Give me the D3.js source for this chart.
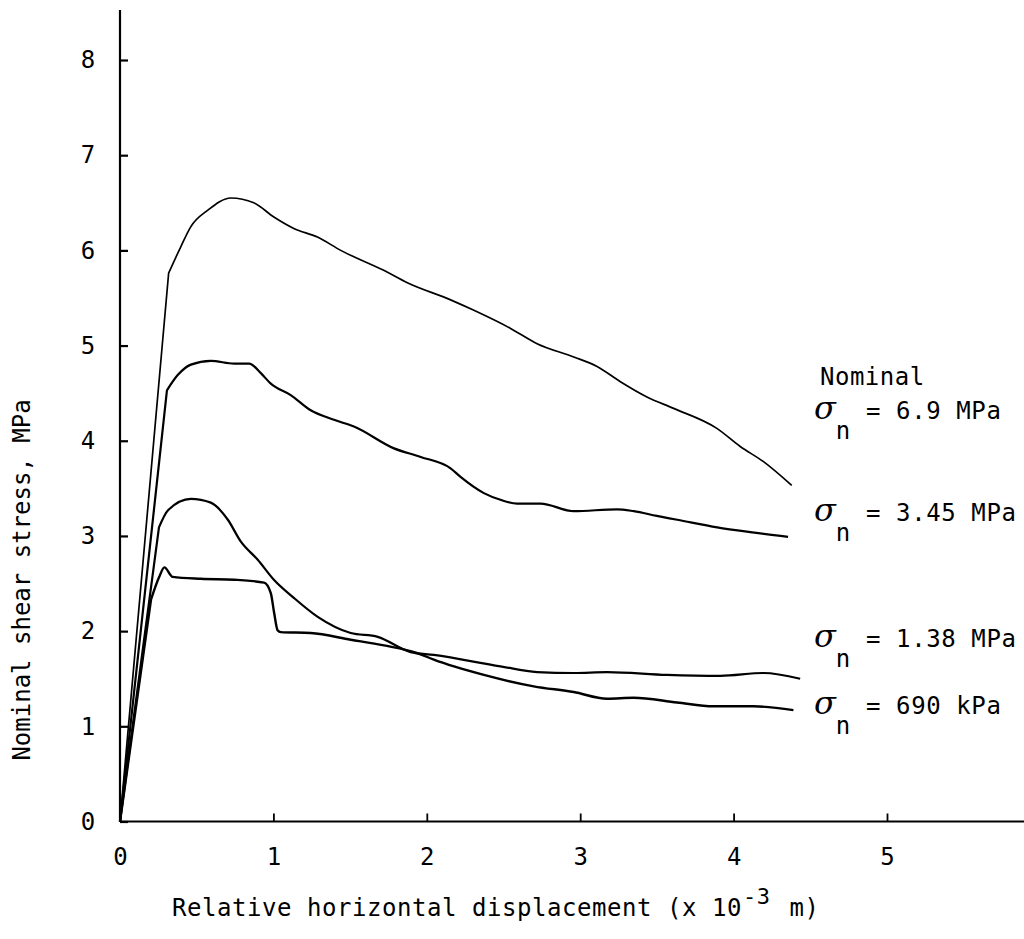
<!DOCTYPE html>
<meta charset="utf-8">
<body style="margin:0;background:#fff">
<script src="https://d3js.org/d3.v7.min.js"></script>
<script>
// tick values
var xTicks = [0, 1, 2, 3, 4, 5];
var yTicks = [0, 1, 2, 3, 4, 5, 6, 7, 8];

// shear stress (MPa) vs displacement (x 10^-3 m)
var curve69 = [[0,0],[0.317,5.76],[0.397,6.04],[0.462,6.25],[0.571,6.42],[0.723,6.55],[0.872,6.50],
  [1.003,6.35],[1.133,6.23],[1.287,6.14],[1.439,6.00],[1.719,5.79],[1.873,5.66],[2.155,5.48],
  [2.307,5.37],[2.546,5.18],[2.719,5.02],[2.958,4.88],[3.110,4.78],[3.262,4.62],[3.435,4.46],
  [3.609,4.34],[3.891,4.13],[4.043,3.94],[4.195,3.78],[4.379,3.53]];
var curve345 = [[0,0],[0.306,4.53],[0.376,4.69],[0.462,4.80],[0.592,4.84],[0.744,4.81],[0.842,4.81],
  [0.918,4.71],[0.983,4.60],[1.113,4.48],[1.243,4.32],[1.395,4.22],[1.525,4.15],[1.786,3.92],
  [1.960,3.83],[2.155,3.71],[2.22,3.62],[2.372,3.45],[2.48,3.38],[2.589,3.34],[2.741,3.34],
  [2.958,3.26],[3.240,3.28],[3.349,3.26],[3.50,3.21],[3.633,3.17],[3.893,3.09],[4.108,3.04],[4.355,2.99]];
var curve138 = [[0,0],[0.254,3.09],[0.313,3.27],[0.462,3.39],[0.592,3.35],[0.703,3.17],[0.788,2.94],
  [0.898,2.75],[1.003,2.54],[1.133,2.35],[1.289,2.15],[1.504,1.98],[1.680,1.94],[1.894,1.78],
  [2.046,1.75],[2.48,1.63],[2.719,1.57],[2.958,1.56],[3.175,1.57],[3.566,1.54],[3.913,1.53],
  [4.195,1.56],[4.434,1.50]];
var curve069 = [[0,0],[0.202,2.33],[0.256,2.57],[0.289,2.67],[0.343,2.57],[0.527,2.55],[0.744,2.54],
  [0.939,2.51],[0.983,2.40],[1.005,2.19],[1.027,2.01],[1.048,1.99],[1.243,1.98],[1.504,1.91],
  [1.721,1.85],[1.938,1.77],[2.046,1.70],[2.372,1.54],[2.697,1.42],[2.958,1.36],[3.175,1.29],
  [3.349,1.30],[3.631,1.25],[3.869,1.21],[4.13,1.21],[4.39,1.17]];

var curves = [curve69, curve345, curve138, curve069];
var curveWidths = [1.7, 2.2, 2.2, 2.4];

// curve labels
var labelTexts = ["= 6.9 MPa", "= 3.45 MPa", "= 1.38 MPa", "= 690 kPa"];
var labelBase = [419, 521, 647, 714];

var mono = "'DejaVu Sans Mono', 'Liberation Mono', monospace";

var svg = d3.select("body").append("svg")
  .attr("width", 1024)
  .attr("height", 939)
  .style("display", "block");

var x = d3.scaleLinear().domain([0, 5]).range([120, 887]);
var y = d3.scaleLinear().domain([0, 8]).range([821.5, 60]);

// axes
svg.append("line").attr("x1", x(0)).attr("x2", x(0)).attr("y1", 10).attr("y2", y(0))
  .attr("stroke", "#000").attr("stroke-width", 2.2);
svg.append("line").attr("x1", x(0)).attr("x2", 1024).attr("y1", y(0)).attr("y2", y(0))
  .attr("stroke", "#000").attr("stroke-width", 2.2);

var yAxis = svg.append("g")
  .attr("transform", "translate(" + x(0) + ",0)")
  .call(d3.axisLeft(y).tickValues(yTicks).tickSize(-8).tickFormat(d3.format("d")));
yAxis.select(".domain").remove();
yAxis.selectAll("line").attr("stroke-width", 2.2);
yAxis.selectAll("text").attr("x", -32).attr("text-anchor", "middle")
  .style("font-family", mono).style("font-size", "24px").attr("fill", "#000");

var xAxis = svg.append("g")
  .attr("transform", "translate(0," + y(0) + ")")
  .call(d3.axisBottom(x).tickValues(xTicks).tickSize(-8).tickFormat(d3.format("d")));
xAxis.select(".domain").remove();
xAxis.selectAll("line").attr("stroke-width", 1.8);
xAxis.selectAll("text").attr("y", 36).attr("dy", "0.32em")
  .style("font-family", mono).style("font-size", "24px").attr("fill", "#000");

// curves: straight loading ramp, then a smooth trace
var ramp = d3.line().x(function(d) { return x(d[0]); }).y(function(d) { return y(d[1]); });
var trace = d3.line().x(function(d) { return x(d[0]); }).y(function(d) { return y(d[1]); })
  .curve(d3.curveMonotoneX);

curves.forEach(function(c, i) {
  svg.append("path")
    .attr("d", ramp(c.slice(0, 2)) + trace(c.slice(1)).replace(/^M/, "L"))
    .attr("fill", "none")
    .attr("stroke", "#000")
    .attr("stroke-linejoin", "round")
    .attr("stroke-width", curveWidths[i]);
});

// axis titles
var xt = svg.append("text")
  .attr("x", 172).attr("y", 916)
  .style("font-family", mono).style("font-size", "24px").style("letter-spacing", "0.55px");
xt.append("tspan").text("Relative horizontal displacement (x 10");
xt.append("tspan").attr("dx", 1).attr("dy", -12).style("font-size", "22px").text("-3");
xt.append("tspan").attr("dx", 4).attr("dy", 12).text(" m)");

svg.append("text")
  .attr("transform", "translate(30,580) rotate(-90)")
  .attr("text-anchor", "middle")
  .style("font-family", mono).style("font-size", "24px")
  .text("Nominal shear stress, MPa");

svg.append("text").attr("x", 820).attr("y", 385)
  .style("font-family", mono).style("font-size", "24px").style("letter-spacing", "0.5px")
  .text("Nominal");

labelTexts.forEach(function(t, i) {
  var g = svg.append("text").attr("x", 814).attr("y", labelBase[i]);
  g.append("tspan")
    .style("font-family", "'DejaVu Serif', serif").style("font-style", "italic")
    .style("font-size", "32px").text("σ");
  g.append("tspan").attr("dy", 20)
    .style("font-family", mono).style("font-size", "24px").text("n");
  g.append("tspan").attr("x", 866).attr("dy", -20)
    .style("font-family", mono).style("font-size", "24px").style("letter-spacing", "0.6px")
    .text(t);
});
</script>
</body>
